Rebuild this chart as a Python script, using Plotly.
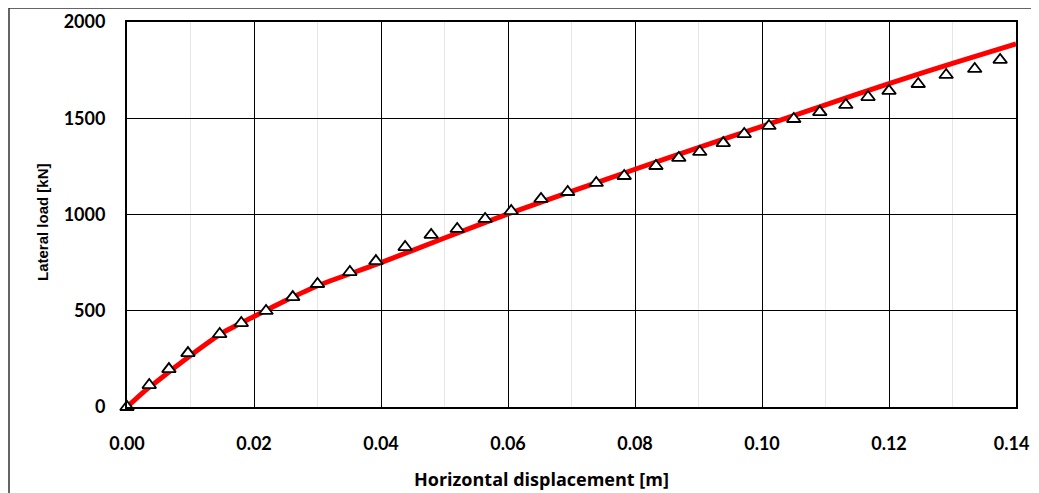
import plotly.graph_objects as go

# Measured (triangles)
disp_meas = [0.0, 0.0035, 0.0066, 0.0096, 0.0146, 0.018, 0.0219, 0.0261, 0.030, 0.0351,
             0.0392, 0.0438, 0.0479, 0.052, 0.0564, 0.0605, 0.0652, 0.0694, 0.0739, 0.0783,
             0.0833, 0.0869, 0.0902, 0.0939, 0.0972, 0.1011, 0.105, 0.1091, 0.1132, 0.1167,
             0.120, 0.1246, 0.129, 0.1335, 0.1375]
load_meas = [0, 114, 197, 280, 379, 436, 499, 571, 639, 701,
             758, 831, 894, 925, 977, 1018, 1081, 1117, 1164, 1200,
             1252, 1294, 1325, 1371, 1418, 1460, 1496, 1532, 1569, 1610,
             1642, 1678, 1725, 1756, 1803]

# Computed (red line)
disp_calc = [0.0, 0.0025, 0.005, 0.0075, 0.01, 0.015, 0.02, 0.025, 0.03, 0.04, 0.05, 0.06,
             0.07, 0.08, 0.09, 0.10, 0.11, 0.12, 0.13, 0.14]
load_calc = [0, 75, 140, 205, 268, 385, 470, 553, 630, 750, 878, 1003,
             1120, 1235, 1348, 1458, 1570, 1680, 1785, 1886]

x_ticks = [0.0, 0.02, 0.04, 0.06, 0.08, 0.10, 0.12, 0.14]
x_tick_labels = ["0.00", "0.02", "0.04", "0.06", "0.08", "0.10", "0.12", "0.14\u00a0\u00a0"]
y_ticks = [0, 500, 1000, 1500, 2000]
x_title = "Horizontal displacement [m]"
y_title = "Lateral load [kN]"

# page body has an 8px margin; figure offset compensated through the margins
W, H = 1031, 485
ML, MR, MT, MB = 119, 23, 14, 86
pw = W - ML - MR
ph = H - MT - MB

fig = go.Figure()
fig.add_trace(go.Scatter(x=disp_calc, y=load_calc, mode="lines",
                         line=dict(color="#FF0000", width=5, shape="spline", smoothing=0.6),
                         showlegend=False))
fig.add_trace(go.Scatter(x=disp_meas, y=load_meas, mode="markers",
                         marker=dict(symbol="triangle-up", size=12, color="white",
                                     line=dict(color="black", width=1.8)),
                         showlegend=False, cliponaxis=False))

tick_font = dict(size=18, family="Lato, 'Open Sans', sans-serif", weight="bold", color="black")
fig.update_layout(
    width=W, height=H,
    margin=dict(l=ML, r=MR, t=MT, b=MB, autoexpand=False),
    paper_bgcolor="white", plot_bgcolor="white",
    font=dict(family="Lato, sans-serif", color="black"),
    xaxis=dict(range=[0, 0.14], tickvals=x_ticks, ticktext=x_tick_labels,
               showgrid=True, gridcolor="black", gridwidth=1.2,
               minor=dict(dtick=0.01, showgrid=True, gridcolor="#e6e6e6", gridwidth=1),
               showline=True, linecolor="black", linewidth=2, mirror=True,
               ticks="", ticklabelstandoff=19, zeroline=False, automargin=False,
               ticklabeloverflow="allow",
               tickfont=tick_font),
    yaxis=dict(range=[0, 2000], tickvals=y_ticks,
               showgrid=True, gridcolor="black", gridwidth=1.2,
               showline=True, linecolor="black", linewidth=2, mirror=True,
               ticks="", ticklabelstandoff=16, zeroline=False, automargin=False,
               ticklabeloverflow="allow",
               tickfont=tick_font),
    annotations=[
        dict(text="<b>" + x_title + "</b>", xref="paper", yref="paper",
             x=(541.5 - 127) / 889, y=(407 - 479) / 385, xanchor="center", yanchor="middle",
             showarrow=False, font=dict(size=18, family="'Open Sans', sans-serif", color="black")),
        dict(text="<b>" + y_title + "</b>", xref="paper", yref="paper",
             x=(43 - 127) / 889, y=(407 - 222) / 385, xanchor="center", yanchor="middle",
             textangle=-90, showarrow=False,
             font=dict(size=15, family="'Liberation Sans', Arial, sans-serif", color="black")),
    ],
    shapes=[dict(type="rect", xref="paper", yref="paper",
                 x0=(1 - ML) / pw, x1=(W + 20 - ML) / pw,
                 y0=-(MB + 30) / ph, y1=(ph + MT - 0) / ph,
                 line=dict(color="#333333", width=1.5), layer="below")],
)

fig.write_html("out.html", config={"displayModeBar": False})
